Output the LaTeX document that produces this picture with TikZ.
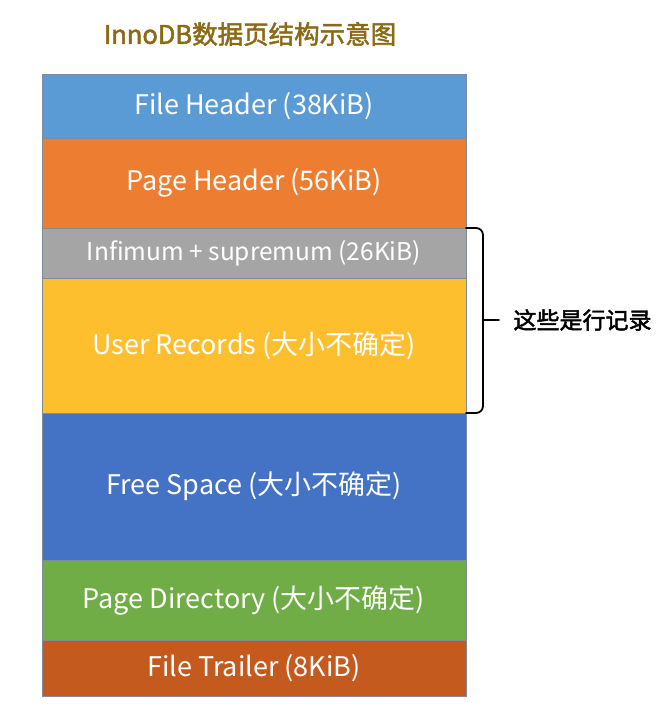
\documentclass[tikz,border=0pt]{standalone}
\usepackage{fontspec}
\setmainfont{Noto Sans CJK SC}
\newfontfamily\cjkb[FakeBold=2]{Noto Sans CJK SC}
\definecolor{cfh}{HTML}{5B9BD5}
\definecolor{cph}{HTML}{ED7D31}
\definecolor{cinf}{HTML}{A5A5A5}
\definecolor{cur}{HTML}{FDBF2D}
\definecolor{cfs}{HTML}{4472C4}
\definecolor{cpd}{HTML}{70AD47}
\definecolor{cft}{HTML}{C55A1F}
\definecolor{ctitle}{HTML}{8B6A16}
\definecolor{cedge}{HTML}{7F8C99}
\tikzset{
  seg/.style={draw=cedge, line width=0.8pt, minimum width=424pt, inner sep=0pt, outer sep=0pt, text=white, font=\fontsize{27}{30}\selectfont, anchor=north west},
  bracket/.style={line width=1.8pt, rounded corners=7pt, line cap=round}
}
\begin{document}
\begin{tikzpicture}[x=1pt,y=-1pt]
\useasboundingbox (0,0) rectangle (671,716);
\node[font=\cjkb\fontsize{25.5}{28}\selectfont, text=ctitle] (title) at (250,34) {InnoDB数据页结构示意图};
\node[seg, fill=cfh, minimum height=64pt] (fh) at (42,74) {File Header (38KiB)};
\node[seg, fill=cph, minimum height=90pt] (ph) at (42,138) {Page Header (56KiB)};
\node[seg, fill=cinf, minimum height=50pt, font=\fontsize{24.5}{28}\selectfont] (inf) at (42,228) {Infimum + supremum (26KiB)};
\node[seg, fill=cur, minimum height=135pt] (ur) at (42,278) {User Records (大小不确定)};
\node[seg, fill=cfs, minimum height=147pt] (fs) at (42,413) {Free Space (大小不确定)};
\node[seg, fill=cpd, minimum height=80pt] (pd) at (42,560) {Page Directory (大小不确定)};
\node[seg, fill=cft, minimum height=56pt] (ft) at (42,640) {File Trailer (8KiB)};
\coordinate (bmid) at (483,320);
\coordinate (btip) at (499,320);
\draw[bracket] (inf.north east) -| (bmid);
\draw[bracket] (ur.south east) -| (bmid);
\draw[line width=1.8pt, line cap=round] (bmid) -- (btip);
\node[font=\cjkb\fontsize{23}{26}\selectfont, anchor=west] (lbl) at (510,320) {这些是行记录};
\end{tikzpicture}
\end{document}
